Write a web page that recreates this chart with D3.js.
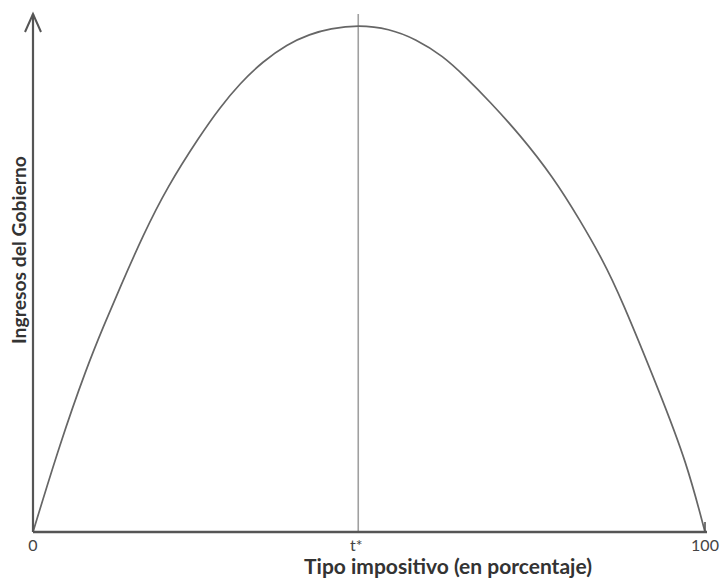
<!DOCTYPE html>
<html><head><meta charset="utf-8">
<script src="https://cdn.jsdelivr.net/npm/d3@7"></script>
<style>html,body{margin:0;padding:0;background:#fff;}svg{display:block;}</style>
</head><body>
<script>
// Laffer curve (tax rate %, revenue as % of maximum)
const taxRate = [0, 4.0, 8.0, 10.5, 13.0, 16.4, 19.9, 24.9, 27.8, 30.8, 34.2, 37.8, 41.2, 44.2, 48.4,
                 53.0, 57.0, 61.0, 64.4, 67.9, 72.5, 77.4, 81.4, 84.8, 87.4, 93.3, 97.3, 100];
const revenue = [0, 17.4, 32.5, 40.6, 48.4, 58.6, 67.9, 78.3, 83.7, 88.5, 92.8, 96.2, 98.2, 99.3, 100,
                 99.3, 97.2, 93.9, 89.7, 85.0, 78.3, 70.0, 61.5, 53.6, 46.5, 27.4, 13.6, 0];
const tStar = 48.4;
const xTickValues = [0, tStar, 100];
const xTickLabels = ["0", "t*", "100"];
const xTitle = "Tipo impositivo (en porcentaje)";
const yTitle = "Ingresos del Gobierno";

const W = 723, H = 579;
const svg = d3.select("body").append("svg").attr("width", W).attr("height", H);
const x = d3.scaleLinear().domain([0, 100]).range([33, 705]);
const y = d3.scaleLinear().domain([0, 100]).range([532, 25]);
const yTop = y.invert(14);

const font = "Lato, 'Open Sans', 'Liberation Sans', sans-serif";

function fitWidth(sel, target) {
  const len = sel.node().getComputedTextLength();
  const fs = parseFloat(sel.attr("font-size"));
  if (len > 0) sel.attr("font-size", fs * target / len);
}

// vertical line at t*
svg.append("line")
  .attr("x1", x(tStar)).attr("x2", x(tStar))
  .attr("y1", y(yTop)).attr("y2", y(0))
  .attr("stroke", "#a0a0a0").attr("stroke-width", 1.6);

// curve
const pts = taxRate.map((t, i) => [t, revenue[i]]);
svg.append("path")
  .datum(pts)
  .attr("fill", "none")
  .attr("stroke", "#666")
  .attr("stroke-width", 1.7)
  .attr("d", d3.line().x(d => x(d[0])).y(d => y(d[1])).curve(d3.curveBasis));

// axes
svg.append("line")
  .attr("x1", x(0)).attr("x2", x(100) + 2)
  .attr("y1", y(0)).attr("y2", y(0))
  .attr("stroke", "#555").attr("stroke-width", 2.4);
svg.append("line")
  .attr("x1", x(0)).attr("x2", x(0))
  .attr("y1", y(0)).attr("y2", y(yTop))
  .attr("stroke", "#555").attr("stroke-width", 2.2);
// arrow head
svg.append("path")
  .attr("d", `M${x(0) - 8},${y(yTop) + 18} L${x(0)},${y(yTop)} L${x(0) + 8},${y(yTop) + 18}`)
  .attr("fill", "none").attr("stroke", "#555").attr("stroke-width", 2);
// tick at 100
svg.append("line")
  .attr("x1", x(100)).attr("x2", x(100))
  .attr("y1", y(0)).attr("y2", y(0) - 10)
  .attr("stroke", "#555").attr("stroke-width", 1.6);

// tick labels
svg.selectAll("text.tick")
  .data(xTickValues)
  .enter().append("text")
  .attr("class", "tick")
  .attr("x", d => x(d) - (d === tStar ? 2 : 0))
  .attr("y", 551)
  .attr("text-anchor", "middle")
  .attr("font-family", font)
  .attr("font-size", 16)
  .attr("fill", "#444")
  .text((d, i) => xTickLabels[i]);

// titles
const xt = svg.append("text")
  .attr("x", 448).attr("y", 574)
  .attr("text-anchor", "middle")
  .attr("font-family", font).attr("font-weight", "bold")
  .attr("font-size", 17).attr("fill", "#333")
  .text(xTitle);
fitWidth(xt, 288);
const yt = svg.append("text")
  .attr("transform", "translate(26,250) rotate(-90)")
  .attr("text-anchor", "middle")
  .attr("font-family", font).attr("font-weight", "bold")
  .attr("font-size", 15).attr("fill", "#333")
  .text(yTitle);
fitWidth(yt, 188);
</script>
</body></html>
